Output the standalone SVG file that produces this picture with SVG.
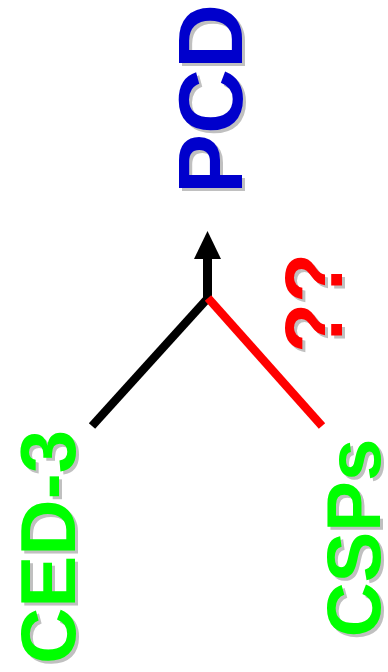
<svg xmlns="http://www.w3.org/2000/svg" width="388" height="672" viewBox="0 0 388 672">
<style>
text{font-family:"Liberation Sans",Arial,sans-serif;font-weight:bold;text-anchor:middle}
.sh{fill:#c0c0c0}
.blue{fill:#0000cc}
.green{fill:#00ff00}
.red{fill:#ff0000}
</style>
<g id="connectors">
<line x1="92" y1="426" x2="208" y2="298" stroke="#000" stroke-width="8.5"/>
<line x1="207.5" y1="300" x2="207.5" y2="255" stroke="#000" stroke-width="9"/>
<path d="M194 259 L207.5 231 L221 259 Z" fill="#000"/>
<line x1="208" y1="298" x2="322" y2="426" stroke="#ff0000" stroke-width="8.5"/>
</g>
<g id="pcd">
<text class="sh" font-size="90" transform="translate(245,102) rotate(-90)">PCD</text>
<text class="blue" font-size="90" transform="translate(242,99) rotate(-90)">PCD</text>
</g>
<g id="qq">
<text class="sh" font-size="82" transform="translate(345,306) rotate(-90)">??</text>
<text class="red" font-size="82" transform="translate(342,303) rotate(-90)">??</text>
</g>
<g id="ced3">
<text class="sh" font-size="78" transform="translate(78,550) rotate(-90)">CED-3</text>
<text class="green" font-size="78" transform="translate(75,547) rotate(-90)">CED-3</text>
</g>
<g id="csps">
<text class="sh" font-size="76" transform="translate(383,541) rotate(-90)">CSPs</text>
<text class="green" font-size="76" transform="translate(380,538) rotate(-90)">CSPs</text>
</g>
</svg>
